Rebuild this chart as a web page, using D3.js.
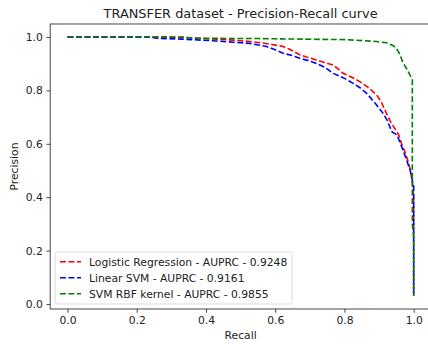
<!DOCTYPE html>
<html>
<head>
<meta charset="utf-8">
<script src="https://cdn.jsdelivr.net/npm/d3@7"></script>
<style>
  body { margin: 0; background: #fff; }
  svg { display: block; font-family: "DejaVu Sans", sans-serif; }
</style>
</head>
<body>
<div id="chart"></div>
<script>
// curve points: [recall, precision]
var lrCurve = [[0,1],[0.27,1],[0.30,0.999],[0.33,0.998],[0.38,0.995],[0.43,0.992],[0.48,0.988],[0.527,0.983],
  [0.56,0.978],[0.59,0.972],[0.623,0.964],[0.64,0.955],[0.655,0.945],[0.671,0.933],[0.69,0.925],[0.719,0.914],
  [0.74,0.905],[0.767,0.895],[0.78,0.882],[0.796,0.864],[0.82,0.85],[0.844,0.833],[0.87,0.81],[0.893,0.783],
  [0.905,0.76],[0.921,0.715],[0.932,0.685],[0.942,0.664],[0.957,0.633],[0.965,0.60],[0.976,0.565],[0.985,0.53],
  [0.99,0.502],[0.998,0.44],[1.0,0.38],[1.0,0.034]];
var svmCurve = [[0,1],[0.24,1],[0.258,0.995],[0.33,0.992],[0.43,0.985],[0.48,0.98],[0.527,0.976],[0.575,0.964],
  [0.60,0.952],[0.623,0.939],[0.65,0.93],[0.671,0.92],[0.70,0.91],[0.719,0.901],[0.745,0.885],[0.767,0.864],
  [0.80,0.845],[0.824,0.827],[0.845,0.81],[0.864,0.789],[0.89,0.75],[0.911,0.715],[0.923,0.689],[0.937,0.645],
  [0.952,0.633],[0.962,0.60],[0.971,0.57],[0.982,0.53],[0.99,0.50],[1.0,0.44],[1.0,0.03]];
var rbfCurve = [[0,1],[0.34,1],[0.36,0.995],[0.55,0.994],[0.6,0.993],[0.8,0.99],[0.893,0.983],[0.922,0.978],
  [0.94,0.968],[0.95,0.958],[0.96,0.935],[0.968,0.907],[0.98,0.88],[0.993,0.848],[0.996,0.84],[0.996,0.3],
  [1.0,0.25],[1.0,0.03]];

var seriesNames = ["Logistic Regression - AUPRC - 0.9248", "Linear SVM - AUPRC - 0.9161", "SVM RBF kernel - AUPRC - 0.9855"];
var seriesColors = ["#ff0000", "#0000ff", "#008000"];
var xTicks = [0, 0.2, 0.4, 0.6, 0.8, 1.0];
var yTicks = [0, 0.2, 0.4, 0.6, 0.8, 1.0];

var W = 428, H = 344;
var L = 50.2, R = 431, T = 24, B = 309;
var fs = 10.75;

var svg = d3.select("#chart").append("svg")
  .attr("width", W)
  .attr("height", H);

var x = d3.scaleLinear().domain([-0.05, 1.05]).range([L, R]);
var y = d3.scaleLinear().domain([-0.0185, 1.0485]).range([B, T]);

// curves
var line = d3.line()
  .x(function(d){ return x(d[0]); })
  .y(function(d){ return y(d[1]); });

[lrCurve, svmCurve, rbfCurve].forEach(function(c, i){
  svg.append("path")
    .datum(c)
    .attr("d", line)
    .attr("fill", "none")
    .attr("stroke", seriesColors[i])
    .attr("stroke-width", 1.6)
    .attr("stroke-dasharray", "5.9,2.6");
});

// axes
var xAxis = svg.append("g")
  .attr("transform", "translate(0," + B + ")")
  .call(d3.axisBottom(x).tickValues(xTicks).tickFormat(d3.format(".1f")).tickSizeInner(3.7).tickSizeOuter(0).tickPadding(3.7));
var yAxis = svg.append("g")
  .attr("transform", "translate(" + L + ",0)")
  .call(d3.axisLeft(y).tickValues(yTicks).tickFormat(d3.format(".1f")).tickSizeInner(3.7).tickSizeOuter(0).tickPadding(3.7));

[xAxis, yAxis].forEach(function(a){
  a.selectAll("text").attr("font-size", fs).attr("fill", "#222").attr("font-family", "DejaVu Sans");
  a.selectAll("line").attr("stroke", "#222").attr("stroke-width", 0.85);
  a.select(".domain").remove();
});

// frame
svg.append("rect")
  .attr("x", L).attr("y", T)
  .attr("width", R - L).attr("height", B - T)
  .attr("fill", "none")
  .attr("stroke", "#333")
  .attr("stroke-width", 0.9);

// labels
svg.append("text")
  .attr("x", (L + R) / 2).attr("y", 17.5)
  .attr("text-anchor", "middle")
  .attr("font-size", 12.9)
  .attr("fill", "#222")
  .text("TRANSFER dataset - Precision-Recall curve");

svg.append("text")
  .attr("x", (L + R) / 2).attr("y", 339)
  .attr("text-anchor", "middle")
  .attr("font-size", fs)
  .attr("fill", "#222")
  .text("Recall");

svg.append("text")
  .attr("transform", "translate(18," + ((T + B) / 2) + ") rotate(-90)")
  .attr("text-anchor", "middle")
  .attr("font-size", fs)
  .attr("fill", "#222")
  .text("Precision");

// legend
var lg = svg.append("g");
lg.append("rect")
  .attr("x", 55).attr("y", 252)
  .attr("width", 237).attr("height", 52)
  .attr("rx", 2.5)
  .attr("fill", "#fff")
  .attr("fill-opacity", 0.8)
  .attr("stroke", "#d0d0d0")
  .attr("stroke-width", 0.8);

seriesNames.forEach(function(name, i){
  var yy = 261.7 + i * 16;
  lg.append("line")
    .attr("x1", 60).attr("x2", 81)
    .attr("y1", yy).attr("y2", yy)
    .attr("stroke", seriesColors[i])
    .attr("stroke-width", 1.6)
    .attr("stroke-dasharray", "5.9,2.6");
  lg.append("text")
    .attr("x", 89).attr("y", yy + 3.9)
    .attr("font-size", fs)
    .attr("fill", "#222")
    .text(name);
});
</script>
</body>
</html>
